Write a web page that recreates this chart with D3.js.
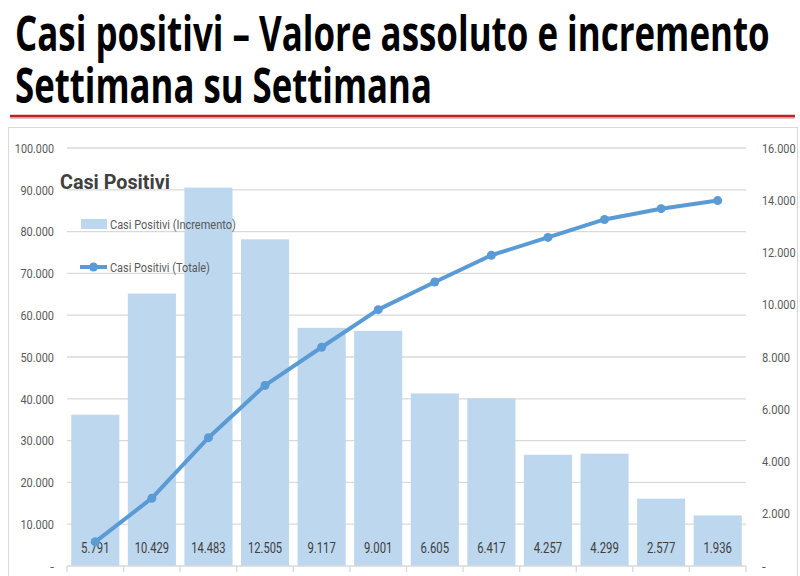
<!DOCTYPE html>
<html>
<head>
<meta charset="utf-8">
<script src="https://cdn.jsdelivr.net/npm/d3@7"></script>
<style>
body { margin: 0; background: #fff; }
.title { font-family: "Open Sans", sans-serif; font-weight: 700; fill: #000; }
.lbl { font-family: "Liberation Sans Narrow", "Roboto", sans-serif; fill: #595959; }
.grid { stroke: #d9d9d9; stroke-width: 1.3px; }
.bar { fill: #bdd7ee; }
.total { fill: none; stroke: #5b9bd5; stroke-width: 4px; stroke-linejoin: round; }
.dot { fill: #5b9bd5; }
</style>
</head>
<body>
<svg id="chart" width="800" height="576"></svg>
<script>
// settimane (etichette asse x non visibili nell'immagine)
var weeks = ["S1", "S2", "S3", "S4", "S5", "S6", "S7", "S8", "S9", "S10", "S11", "S12"];
// incremento settimanale (asse destro)
var incremento = [5791, 10429, 14483, 12505, 9117, 9001, 6605, 6417, 4257, 4299, 2577, 1936];
// totale casi positivi (asse sinistro)
var totale = [5791, 16220, 30703, 43208, 52325, 61326, 67931, 74348, 78605, 82904, 85481, 87417];
var leftTicks = [0, 10000, 20000, 30000, 40000, 50000, 60000, 70000, 80000, 90000, 100000];
var rightTicks = [0, 2000, 4000, 6000, 8000, 10000, 12000, 14000, 16000];

var svg = d3.select("#chart");

// thousands with dot, zero as "-"
var fmt = function(v) {
    if (v === 0) return "-";
    return d3.format(",")(v).replace(/,/g, ".");
};

// squeeze a text horizontally to a given width (no condensed font installed),
// scaling around its own anchor x
function squeeze(sel, widthFn) {
    sel.each(function(d, i) {
        var t = d3.select(this);
        var w = typeof widthFn === "function" ? widthFn(d, i) : widthFn;
        var len = this.getComputedTextLength();
        if (!len || !w) return;
        var s = w / len;
        var x0 = +t.attr("x");
        t.attr("transform", "translate(" + x0 + ",0) scale(" + s + ",1) translate(" + (-x0) + ",0)");
    });
}
var numWidth = function(v) {
    return v === 0 ? 0 : fmt(v).length * 5.6;
};

// title
svg.append("text").attr("class", "title")
    .attr("x", 15).attr("y", 51)
    .attr("font-size", 49)
    .text("Casi positivi – Valore assoluto e incremento")
    .call(squeeze, 755);
svg.append("text").attr("class", "title")
    .attr("x", 15).attr("y", 103)
    .attr("font-size", 49)
    .text("Settimana su Settimana")
    .call(squeeze, 417);

svg.append("line")
    .attr("x1", 10).attr("x2", 795).attr("y1", 117).attr("y2", 117)
    .attr("stroke", "#e8c0c0").attr("stroke-width", 4);
svg.append("line")
    .attr("x1", 10).attr("x2", 795).attr("y1", 116).attr("y2", 116)
    .attr("stroke", "#b8242a").attr("stroke-width", 2.5);

// chart panel
svg.append("rect")
    .attr("x", 8.5).attr("y", 127.5).attr("width", 789).attr("height", 460)
    .attr("fill", "#fff").attr("stroke", "#d9d9d9").attr("stroke-width", 1);

var x = d3.scaleBand()
    .domain(weeks)
    .range([67, 746])
    .paddingInner(0.15)
    .paddingOuter(0.075);

var yL = d3.scaleLinear().domain([0, 100000]).range([566, 148]);
var yR = d3.scaleLinear().domain([0, 16000]).range([566, 148]);

// gridlines
svg.append("g").selectAll("line")
    .data(leftTicks.slice(1))
    .join("line")
    .attr("class", "grid")
    .attr("x1", 67).attr("x2", 746)
    .attr("y1", function(d) { return yL(d); })
    .attr("y2", function(d) { return yL(d); });

// left axis labels
svg.append("g").selectAll("text")
    .data(leftTicks)
    .join("text")
    .attr("class", "lbl")
    .attr("x", 54)
    .attr("y", function(d) { return yL(d); })
    .attr("dy", "0.35em")
    .attr("text-anchor", "end")
    .attr("font-size", 13.5)
    .text(fmt)
    .call(squeeze, numWidth);

// right axis labels
svg.append("g").selectAll("text")
    .data(rightTicks)
    .join("text")
    .attr("class", "lbl")
    .attr("x", 762)
    .attr("y", function(d) { return yR(d); })
    .attr("dy", "0.35em")
    .attr("font-size", 13.5)
    .text(fmt)
    .call(squeeze, numWidth);

// bars (incremento, asse destro)
svg.append("g").selectAll("rect")
    .data(incremento)
    .join("rect")
    .attr("class", "bar")
    .attr("x", function(d, i) { return x(weeks[i]); })
    .attr("width", x.bandwidth())
    .attr("y", function(d) { return yR(d); })
    .attr("height", function(d) { return yR(0) - yR(d); });

// x axis line + ticks
var xAxis = svg.append("g");
xAxis.append("line")
    .attr("x1", 67).attr("x2", 746).attr("y1", 566).attr("y2", 566)
    .attr("stroke", "#d9d9d9").attr("stroke-width", 1.3);
xAxis.selectAll("line.tick")
    .data(d3.range(weeks.length + 1))
    .join("line")
    .attr("class", "tick")
    .attr("x1", function(i) { return 67 + i * x.step(); })
    .attr("x2", function(i) { return 67 + i * x.step(); })
    .attr("y1", 566).attr("y2", 572)
    .attr("stroke", "#d9d9d9").attr("stroke-width", 1.3);

// bar value labels
svg.append("g").selectAll("text")
    .data(incremento)
    .join("text")
    .attr("class", "lbl")
    .attr("x", function(d, i) { return x(weeks[i]) + x.bandwidth() / 2; })
    .attr("y", 548)
    .attr("dy", "0.35em")
    .attr("text-anchor", "middle")
    .attr("font-size", 14.5)
    .style("fill", "#404040")
    .text(fmt)
    .call(squeeze, function(d) { return fmt(d).length * 5.7; });

// line (totale, asse sinistro)
var line = d3.line()
    .x(function(d, i) { return x(weeks[i]) + x.bandwidth() / 2; })
    .y(function(d) { return yL(d); });

svg.append("path")
    .datum(totale)
    .attr("class", "total")
    .attr("d", line);

svg.append("g").selectAll("circle")
    .data(totale)
    .join("circle")
    .attr("class", "dot")
    .attr("cx", function(d, i) { return x(weeks[i]) + x.bandwidth() / 2; })
    .attr("cy", function(d) { return yL(d); })
    .attr("r", 4.5);

// legend
var lg = svg.append("g");
lg.append("text").attr("class", "lbl")
    .attr("x", 60).attr("y", 182).attr("dy", "0.35em")
    .attr("font-size", 20).attr("font-weight", 700)
    .style("fill", "#404040")
    .text("Casi Positivi")
    .call(squeeze, 110);
lg.append("rect")
    .attr("class", "bar")
    .attr("x", 81).attr("y", 219).attr("width", 26).attr("height", 10);
lg.append("text").attr("class", "lbl")
    .attr("x", 110).attr("y", 224).attr("dy", "0.35em")
    .attr("font-size", 13.5)
    .text("Casi Positivi (Incremento)")
    .call(squeeze, 126);
lg.append("line")
    .attr("class", "total")
    .attr("x1", 80).attr("x2", 107).attr("y1", 267).attr("y2", 267);
lg.append("circle")
    .attr("class", "dot")
    .attr("cx", 93.5).attr("cy", 267).attr("r", 4.5);
lg.append("text").attr("class", "lbl")
    .attr("x", 110).attr("y", 267).attr("dy", "0.35em")
    .attr("font-size", 13.5)
    .text("Casi Positivi (Totale)")
    .call(squeeze, 100);
</script>
</body>
</html>
